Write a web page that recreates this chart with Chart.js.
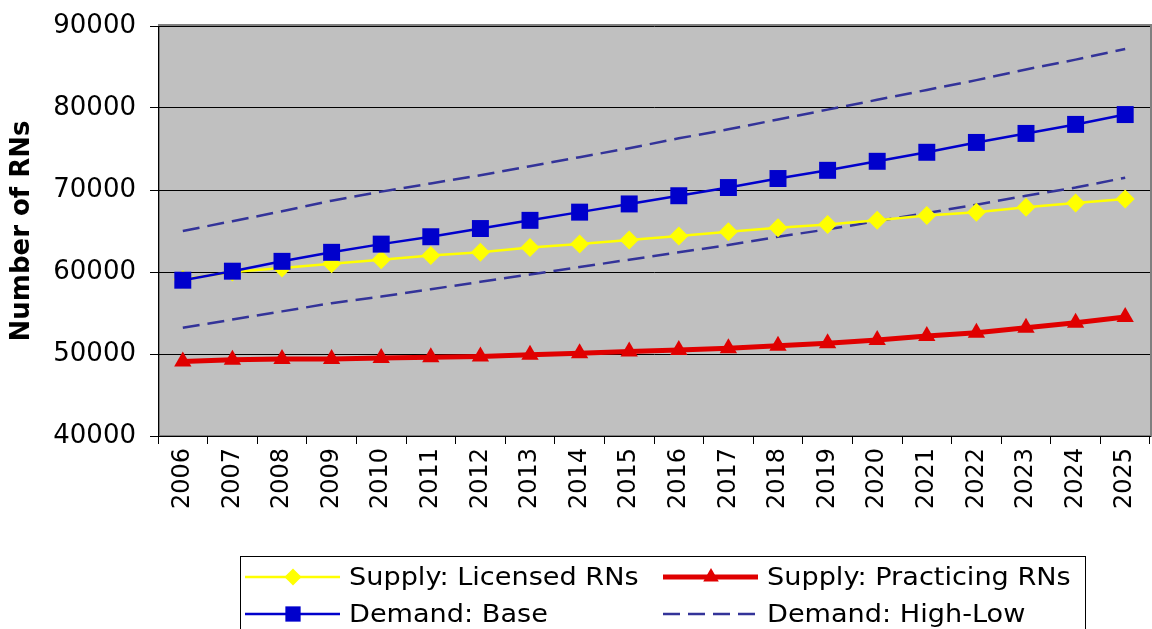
<!DOCTYPE html>
<html>
<head>
<meta charset="utf-8">
<script src="https://cdn.jsdelivr.net/npm/chart.js@4.4.1/dist/chart.umd.min.js"></script>
<style>
  html, body { margin: 0; padding: 0; background: #fff; overflow: hidden; }
  #chart { display: block; }
</style>
</head>
<body>
<canvas id="chart" width="1162" height="629"></canvas>
<script>
// --- data ---
const years = ['2006','2007','2008','2009','2010','2011','2012','2013','2014','2015',
               '2016','2017','2018','2019','2020','2021','2022','2023','2024','2025'];
const licensed = [59100,60000,60500,61000,61500,62000,62400,63000,63400,63900,
                  64400,64900,65400,65800,66300,66900,67300,67900,68400,68900];
const practicing = [49100,49300,49400,49400,49500,49600,49700,49900,50100,50300,
                    50500,50700,51000,51300,51700,52200,52600,53200,53800,54500];
const demandBase = [59000,60100,61300,62400,63400,64300,65300,66300,67300,68300,
                    69300,70300,71400,72400,73500,74600,75800,76900,78000,79200];
const demandHigh = [65000,66200,67400,68700,69800,70800,71800,72900,74000,75100,
                    76300,77400,78600,79800,81000,82200,83400,84700,85900,87200];
const demandLow = [53200,54200,55200,56200,57000,57900,58800,59700,60600,61500,
                   62400,63300,64300,65200,66200,67200,68200,69300,70300,71500];
const yTicks = [40000, 50000, 60000, 70000, 80000, 90000];

const FONT = "'DejaVu Sans', Verdana, sans-serif";

// gray plot background + border
const plotBg = {
  id: 'plotBg',
  beforeDraw(chart) {
    const { ctx, chartArea: a } = chart;
    ctx.save();
    ctx.fillStyle = '#C0C0C0';
    ctx.fillRect(a.left, a.top, a.right - a.left, a.bottom - a.top);
    ctx.strokeStyle = '#808080';
    ctx.lineWidth = 2;
    ctx.strokeRect(a.left + 1, a.top - 1, a.right - a.left, a.bottom - a.top + 1);
    ctx.restore();
  }
};

// legend with line + marker samples, boxed, two columns
const boxLegend = {
  id: 'boxLegend',
  afterDraw(chart) {
    const ctx = chart.ctx;
    const items = chart.data.datasets.filter(d => d.inLegend);
    const x0 = 240, y0 = chart.height - 73, w = 845;
    ctx.save();
    ctx.strokeStyle = '#000';
    ctx.lineWidth = 1;
    ctx.strokeRect(x0 + 0.5, y0 + 0.5, w, 120);
    const colX = [245, 663], rowY = [y0 + 21, y0 + 58];
    ctx.textBaseline = 'middle';
    items.forEach((d, i) => {
      const x = colX[i % 2], y = rowY[Math.floor(i / 2)];
      ctx.save();
      ctx.strokeStyle = d.borderColor;
      ctx.lineWidth = d.borderWidth;
      ctx.setLineDash(d.borderDash || []);
      ctx.beginPath();
      ctx.moveTo(x, y);
      ctx.lineTo(x + 95, y);
      ctx.stroke();
      ctx.restore();
      if (d.pointRadius > 0) {
        ctx.save();
        ctx.fillStyle = d.pointBackgroundColor;
        Chart.helpers.drawPoint(ctx, {
          pointStyle: d.pointStyle, radius: d.pointRadius * 0.9, rotation: 0, borderWidth: 0
        }, x + 48, y);
        ctx.restore();
      }
      // text in the reference is a bit wider than DejaVu, stretch slightly
      ctx.save();
      ctx.translate(x + 104, y + 1);
      ctx.scale(1.085, 1);
      ctx.font = '25px ' + FONT;
      ctx.fillStyle = '#000';
      ctx.fillText(d.label, 0, 0);
      ctx.restore();
    });
    ctx.restore();
  }
};

new Chart(document.getElementById('chart'), {
  type: 'line',
  data: {
    labels: years,
    datasets: [
      {
        label: 'Supply: Licensed RNs', data: licensed, inLegend: true,
        borderColor: '#FFFF00', borderWidth: 2.5,
        pointStyle: 'rectRot', pointRadius: 9.5,
        pointBackgroundColor: '#FFFF00', pointBorderColor: '#FFFF00', pointBorderWidth: 0,
        order: 3
      },
      {
        label: 'Supply: Practicing RNs', data: practicing, inLegend: true,
        borderColor: '#E00000', borderWidth: 5,
        pointStyle: 'triangle', pointRadius: 10,
        pointBackgroundColor: '#E00000', pointBorderColor: '#E00000', pointBorderWidth: 0,
        order: 2
      },
      {
        label: 'Demand: Base', data: demandBase, inLegend: true,
        borderColor: '#0000CC', borderWidth: 2.5,
        pointStyle: 'rect', pointRadius: 12,
        pointBackgroundColor: '#0000CC', pointBorderColor: '#0000CC', pointBorderWidth: 0,
        order: 1
      },
      {
        label: 'Demand: High-Low', data: demandHigh, inLegend: true,
        borderColor: '#333399', borderWidth: 2.5, borderDash: [17, 8],
        pointRadius: 0, order: 4
      },
      {
        label: 'Demand: Low', data: demandLow, inLegend: false,
        borderColor: '#333399', borderWidth: 2.5, borderDash: [17, 8],
        pointRadius: 0, order: 4
      }
    ]
  },
  options: {
    responsive: false,
    animation: false,
    devicePixelRatio: 1,
    layout: { padding: { top: 26, left: 0, right: 2, bottom: 113 } },
    plugins: {
      legend: { display: false },
      tooltip: { enabled: false }
    },
    elements: { line: { tension: 0 } },
    scales: {
      x: {
        offset: true,
        grid: {
          offset: true, drawOnChartArea: false, drawTicks: true,
          tickLength: 8, color: '#000', lineWidth: 1
        },
        border: { color: '#000', width: 1 },
        ticks: {
          minRotation: 90, maxRotation: 90, autoSkip: false, padding: 4,
          color: '#000', font: { family: FONT, size: 24 }
        },
        afterFit(s) { s.height = 80; }
      },
      y: {
        min: 40000, max: 90000,
        afterBuildTicks(s) { s.ticks = yTicks.map(v => ({ value: v })); },
        grid: { color: '#000', lineWidth: 1, tickLength: 8 },
        border: { color: '#000', width: 1 },
        ticks: {
          padding: 14, color: '#000',
          font: { family: FONT, size: 26, lineHeight: 0.8 },
          callback: v => String(v)
        },
        title: {
          display: true, text: 'Number of RNs', color: '#000',
          font: { family: FONT, size: 26, weight: 'bold' },
          padding: { top: 7, bottom: 0 }
        },
        afterFit(s) { s.width = 158; }
      }
    }
  },
  plugins: [plotBg, boxLegend]
});
</script>
</body>
</html>
